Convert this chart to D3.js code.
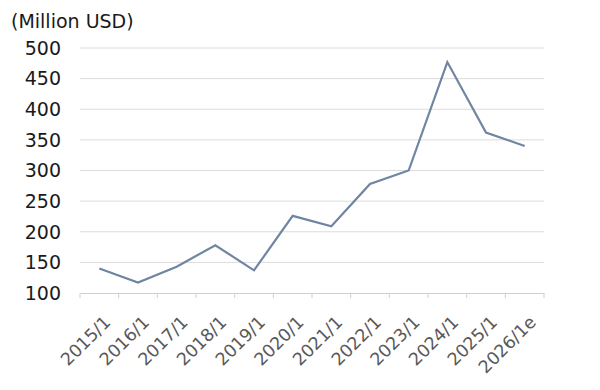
<!DOCTYPE html>
<html><head><meta charset="utf-8">
<script src="https://cdn.jsdelivr.net/npm/d3@7"></script>
<style>body{margin:0;background:#fff}</style>
</head><body>
<svg id="c" width="600" height="390"></svg>
<script>
const categories = ["2015/1","2016/1","2017/1","2018/1","2019/1","2020/1","2021/1","2022/1","2023/1","2024/1","2025/1","2026/1e"];
const values = [140,117,143,178,137,226,209,278,300,477,362,340];
const yTicks = [100,150,200,250,300,350,400,450,500];
const unitLabel = "(Million USD)";

(function () {
const svg = d3.select("#c");
const font = "DejaVu Sans, Verdana, sans-serif";
const mLeft = 80, mRight = 544, mTop = 48, mBottom = 293;

const x = d3.scaleBand().domain(categories).range([mLeft, mRight]);
const y = d3.scaleLinear().domain([100, 500]).range([mBottom, mTop]);

// gridlines
svg.append("g").selectAll("line").data(yTicks.filter(d => d !== 100)).join("line")
  .attr("x1", mLeft).attr("x2", mRight)
  .attr("y1", d => y(d)).attr("y2", d => y(d))
  .attr("stroke", "#dcdcdc").attr("stroke-width", 1);

// y labels
svg.append("g").selectAll("text").data(yTicks).join("text")
  .attr("x", 61).attr("y", d => y(d)).attr("dy", "0.36em")
  .attr("text-anchor", "end").attr("font-family", font).attr("font-size", 19)
  .attr("fill", "#1a1a1a").text(d => d);

// title
svg.append("text").attr("x", 11).attr("y", 28).attr("font-family", font)
  .attr("font-size", 19).attr("fill", "#1a1a1a").text(unitLabel);

// x axis
const xAxis = d3.axisBottom(x).tickSize(0).tickFormat("");
const gx = svg.append("g").attr("transform", `translate(0,${mBottom})`).call(xAxis);
gx.select(".domain").attr("stroke", "#d0d0d0");
const bounds = categories.map(c => x(c)).concat([mRight]);
gx.selectAll("line.b").data(bounds).join("line").attr("class", "b")
  .attr("x1", d => d).attr("x2", d => d).attr("y1", 0).attr("y2", 5)
  .attr("stroke", "#d0d0d0");

svg.append("g").selectAll("text").data(categories).join("text")
  .attr("transform", c => `translate(${x(c) + x.bandwidth()/2 + 8},${mBottom + 26}) rotate(-45)`)
  .attr("text-anchor", "end").attr("dy", "0.35em")
  .attr("font-family", font).attr("font-size", 17.5).attr("fill", "#595959")
  .text(c => c);

// line
const line = d3.line().x((d, i) => x(categories[i]) + x.bandwidth()/2).y(d => y(d));
svg.append("path").datum(values).attr("d", line)
  .attr("fill", "none").attr("stroke", "#6f85a2").attr("stroke-width", 2.2)
  .attr("stroke-linejoin", "miter");
})();
</script>
</body></html>
